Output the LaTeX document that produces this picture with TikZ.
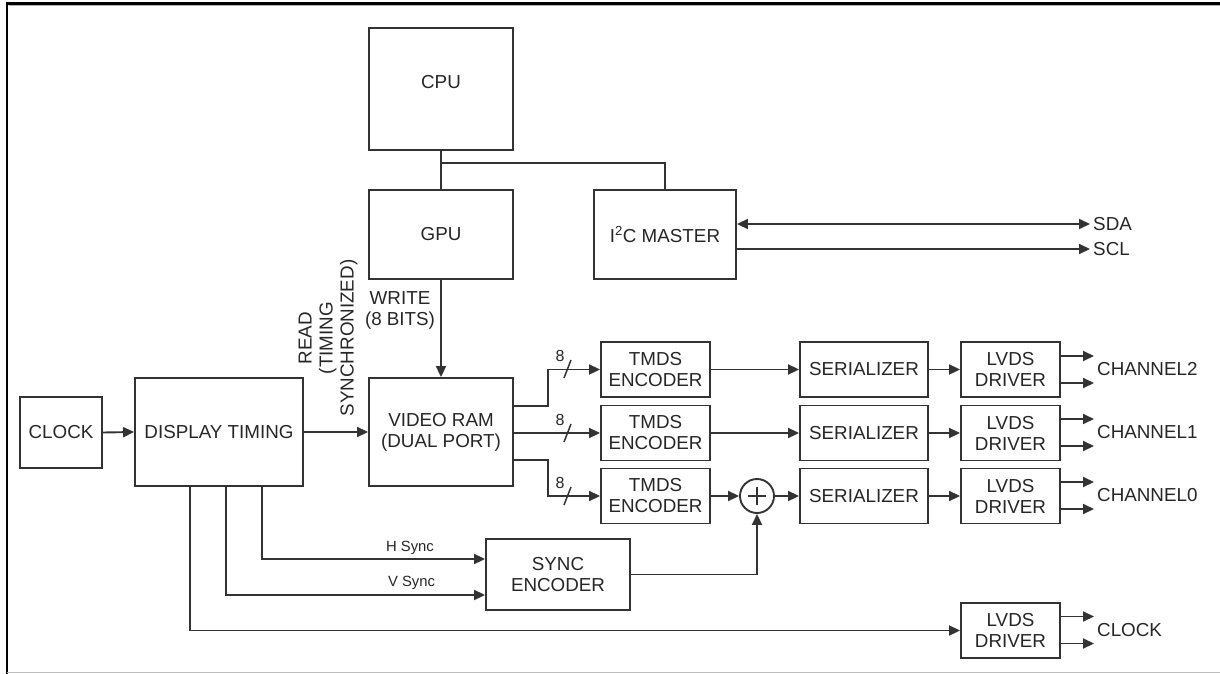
\documentclass[tikz,border=0pt]{standalone}
\usepackage{fontspec}
\setmainfont{Liberation Sans}
\usetikzlibrary{arrows.meta}
\newcommand{\myMainFont}{\fontsize{18.8}{21}\selectfont}
\newcommand{\mySmallFont}{\fontsize{14.8}{17}\selectfont}
\newcommand{\myBitFont}{\fontsize{16}{18}\selectfont}
\definecolor{lc}{HTML}{333333}
\definecolor{tc}{HTML}{262626}
\begin{document}
\begin{tikzpicture}[x=1pt,y=-1pt,
  box/.style={draw=lc, line width=1.9pt, fill=white, inner sep=0pt, align=center, text=tc, font=\myMainFont},
  conn/.style={draw=lc, line width=1.9pt},
  arr/.style={conn, -{Triangle[length=11pt,width=10pt]}},
  lbl/.style={text=tc, font=\myMainFont, inner sep=0pt},
  smalllbl/.style={text=tc, font=\mySmallFont, inner sep=0pt},
  bitlbl/.style={text=tc, font=\myBitFont, inner sep=0pt},
  tmdsbox/.style={box, minimum width=109pt, minimum height=55pt},
  serbox/.style={box, minimum width=128pt, minimum height=55pt},
  lvdsbox/.style={box, minimum width=99pt, minimum height=55pt}]
\useasboundingbox (0,0) rectangle (1220,674);
% frame
\draw[black, line width=2.4pt] (7,674) -- (7,3.5) -- (1220,3.5);
\draw[black!30, line width=1pt] (8.5,5.5) -- (1220,5.5);
\draw[black!25, line width=1.2pt] (7,672.5) -- (1220,672.5);

% blocks
\node[box, minimum width=144pt, minimum height=122pt] (cpu) at (441,89) {};
\node[lbl] (cputxt) at (441,82) {CPU};
\node[box, minimum width=144pt, minimum height=89pt] (gpu) at (441,234.5) {GPU};
\node[box, minimum width=142pt, minimum height=89pt] (i2c) at (665,234.5) {I\textsuperscript{2}C MASTER};
\node[box, minimum width=82pt, minimum height=71pt] (clk) at (61,432.5) {CLOCK};
\node[box, minimum width=168pt, minimum height=108pt] (dt) at (219,432) {DISPLAY TIMING};
\node[box, minimum width=144pt, minimum height=108pt] (vram) at (441,432) {VIDEO RAM\\(DUAL PORT)};
\node[tmdsbox] (t1) at (655.5,369.5) {TMDS\\ENCODER};
\node[tmdsbox] (t2) at (655.5,433) {TMDS\\ENCODER};
\node[tmdsbox] (t3) at (655.5,496) {TMDS\\ENCODER};
\node[serbox] (s1) at (864,369.5) {SERIALIZER};
\node[serbox] (s2) at (864,433) {SERIALIZER};
\node[serbox] (s3) at (864,496) {SERIALIZER};
\node[lvdsbox] (l1) at (1010.5,369.5) {LVDS\\DRIVER};
\node[lvdsbox] (l2) at (1010.5,433) {LVDS\\DRIVER};
\node[lvdsbox] (l3) at (1010.5,496) {LVDS\\DRIVER};
\node[lvdsbox] (lc) at (1010.5,630.5) {LVDS\\DRIVER};
\node[box, minimum width=144pt, minimum height=71pt] (sync) at (558,574.5) {SYNC\\ENCODER};
\node[draw=lc, line width=1.9pt, circle, minimum size=34pt, inner sep=0pt] (sum) at (757,496) {};
\draw[lc, line width=1.6pt] ([xshift=-9pt]sum.center) -- ([xshift=9pt]sum.center);
\draw[lc, line width=1.6pt] ([yshift=-9pt]sum.center) -- ([yshift=9pt]sum.center);

% labels
\node[lbl, anchor=west] (sda) at (1093,224) {SDA};
\node[lbl, anchor=west] (scl) at (1093,249) {SCL};
\node[lbl, anchor=west] (ch2) at (1097,369) {CHANNEL2};
\node[lbl, anchor=west] (ch1) at (1097,432.5) {CHANNEL1};
\node[lbl, anchor=west] (ch0) at (1097,495.5) {CHANNEL0};
\node[lbl, anchor=west] (clkout) at (1097,630) {CLOCK};
\node[lbl, align=center] (write) at (400,310.5) {WRITE\\(8 BITS)};
\node[lbl, align=center, rotate=90] (read) at (328,338) {READ\\(TIMING\\SYNCHRONIZED)};
\node[smalllbl] (hsl) at (410,548) {H Sync};
\node[smalllbl] (vsl) at (411.5,583) {V Sync};
\node[bitlbl] (b1) at (560,356) {8};
\node[bitlbl] (b2) at (560,420) {8};
\node[bitlbl] (b3) at (560,483) {8};

% coordinates
\coordinate (br) at (441,163);
\coordinate (o1a) at (1094,356);
\coordinate (o1b) at (1094,383);
\coordinate (o2a) at (1094,419);
\coordinate (o2b) at (1094,446);
\coordinate (o3a) at (1094,482);
\coordinate (o3b) at (1094,509);
\coordinate (oca) at (1094,616.5);
\coordinate (ocb) at (1094,643.5);
\coordinate (v1) at (548,406);
\coordinate (v3) at (548,460);
\coordinate (hs) at (262,559);
\coordinate (vs) at (226,595);
\coordinate (ck) at (190,631);

% connectors
\draw[conn] (cpu.south) -- (gpu.north);
\draw[conn] (br) -| (i2c.north);
\draw[conn, {Triangle[length=11pt,width=10pt]}-{Triangle[length=11pt,width=10pt]}, shorten >=3pt] (i2c.east |- sda) -- (sda.west);
\draw[arr, shorten >=3pt] (i2c.east |- scl) -- (scl.west);
\draw[arr] (gpu.south) -- (vram.north);
\draw[arr] (clk.east) -- (dt.west);
\draw[arr] (dt.east) -- (vram.west);
\draw[arr] (vram.east |- v1) -- (v1) |- (t1.west);
\draw[arr] (vram.east |- t2) -- (t2.west);
\draw[arr] (vram.east |- v3) -- (v3) |- (t3.west);
\draw[conn, line width=1.5pt] (564,378) -- (571,360);
\draw[conn, line width=1.5pt] (564,442) -- (571,424);
\draw[conn, line width=1.5pt] (564,505) -- (571,487);
\draw[arr] (t1.east) -- (s1.west);
\draw[arr] (t2.east) -- (s2.west);
\draw[arr] (t3.east) -- (sum.west);
\draw[arr] (sum.east) -- (s3.west);
\draw[arr] (s1.east) -- (l1.west);
\draw[arr] (s2.east) -- (l2.west);
\draw[arr] (s3.east) -- (l3.west);
\draw[arr] (l1.east |- o1a) -- (o1a);
\draw[arr] (l1.east |- o1b) -- (o1b);
\draw[arr] (l2.east |- o2a) -- (o2a);
\draw[arr] (l2.east |- o2b) -- (o2b);
\draw[arr] (l3.east |- o3a) -- (o3a);
\draw[arr] (l3.east |- o3b) -- (o3b);
\draw[arr] (lc.east |- oca) -- (oca);
\draw[arr] (lc.east |- ocb) -- (ocb);
\draw[arr] (dt.south -| hs) |- (sync.west |- hs);
\draw[arr] (dt.south -| vs) |- (sync.west |- vs);
\draw[arr] (dt.south -| ck) |- (lc.west);
\draw[arr] (sync.east) -| (sum.south);
\end{tikzpicture}
\end{document}
